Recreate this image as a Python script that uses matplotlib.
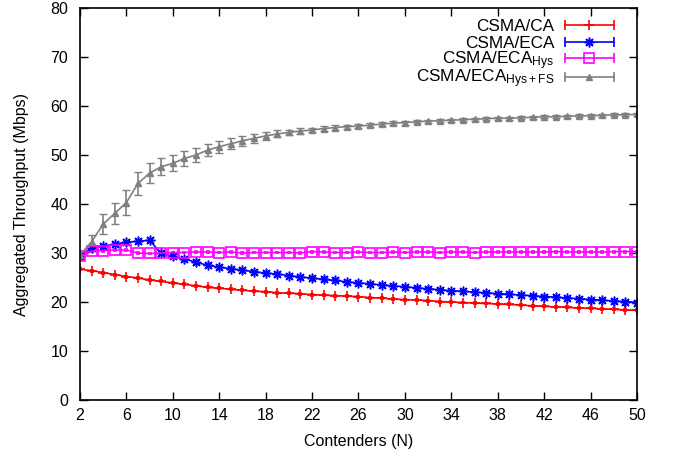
import numpy as np
import matplotlib
matplotlib.use("Agg")
import matplotlib.pyplot as plt
from matplotlib.lines import Line2D
from matplotlib.legend import Legend
from matplotlib.legend_handler import HandlerBase

plt.rcParams['font.family'] = ['Liberation Sans', 'DejaVu Sans']
plt.rcParams['mathtext.default'] = 'regular'
plt.rcParams['xtick.direction'] = 'in'
plt.rcParams['ytick.direction'] = 'in'

# contenders N = 2..50
contenders = list(range(2, 51))

csma_ca = [26.7, 26.4, 26.0, 25.6, 25.2, 24.9, 24.5, 24.2, 23.9, 23.6,
           23.3, 23.0, 22.8, 22.6, 22.4, 22.2, 22.1, 21.9, 21.8, 21.7,
           21.5, 21.4, 21.3, 21.2, 21.1, 20.9, 20.8, 20.6, 20.5, 20.4,
           20.3, 20.1, 20.0, 19.9, 19.8, 19.7, 19.6, 19.5, 19.4, 19.2,
           19.1, 19.0, 18.9, 18.8, 18.7, 18.6, 18.5, 18.4, 18.3]
csma_eca = [29.4, 31.0, 31.4, 31.8, 32.2, 32.4, 32.6, 29.9, 29.3, 28.8,
            28.1, 27.5, 27.1, 26.8, 26.5, 26.2, 25.9, 25.7, 25.4, 25.1,
            24.9, 24.6, 24.4, 24.1, 23.9, 23.7, 23.5, 23.3, 23.1, 22.9,
            22.7, 22.5, 22.3, 22.2, 22.0, 21.9, 21.7, 21.6, 21.4, 21.3,
            21.1, 21.0, 20.8, 20.7, 20.5, 20.4, 20.2, 20.1, 19.9]
csma_eca_hys = [29.3, 30.4, 30.5, 30.6, 30.6, 30.0, 29.9, 30.0, 30.1, 30.1,
                30.2, 30.2, 30.1, 30.2, 30.0, 30.1, 30.1, 30.1, 30.1, 30.0,
                30.3, 30.2, 30.1, 30.1, 30.2, 30.1, 30.1, 30.2, 30.1, 30.2,
                30.2, 30.1, 30.2, 30.2, 30.1, 30.2, 30.2, 30.2, 30.2, 30.2,
                30.2, 30.3, 30.2, 30.2, 30.2, 30.2, 30.3, 30.3, 30.3]
csma_eca_fs = [29.6, 32.3, 35.9, 38.1, 40.3, 44.2, 46.3, 47.6, 48.3, 49.3,
               50.0, 51.0, 51.7, 52.3, 52.9, 53.4, 53.9, 54.3, 54.6, 54.9,
               55.1, 55.4, 55.6, 55.8, 55.9, 56.1, 56.3, 56.5, 56.6, 56.8,
               56.9, 57.0, 57.1, 57.2, 57.3, 57.4, 57.5, 57.5, 57.6, 57.7,
               57.8, 57.8, 57.9, 58.0, 58.0, 58.1, 58.2, 58.2, 58.3]
err_fs = [0.6, 1.3, 2.1, 2.1, 2.5, 2.3, 2.1, 1.7, 1.6, 1.5,
          1.4, 1.3, 1.2, 1.1, 1.0, 0.9, 0.8, 0.7, 0.6, 0.6,
          0.5, 0.5, 0.5, 0.4, 0.4, 0.4, 0.4, 0.4, 0.4, 0.3,
          0.3, 0.3, 0.3, 0.3, 0.3, 0.3, 0.3, 0.3, 0.3, 0.3,
          0.3, 0.3, 0.3, 0.3, 0.3, 0.3, 0.3, 0.3, 0.3]
err_small = 0.2

labels = ['CSMA/CA', 'CSMA/ECA', 'CSMA/ECA$_{Hys}$', 'CSMA/ECA$_{Hys+FS}$']


class HBarHandler(HandlerBase):
    # gnuplot style key sample: horizontal bar with end caps and point in the middle
    def create_artists(self, legend, orig_handle, xdescent, ydescent,
                       width, height, fontsize, trans):
        y = height / 2 - ydescent
        x0, x1 = -xdescent, width - xdescent
        c = orig_handle.get_color()
        line = Line2D([x0, x1], [y, y], color=c, lw=1.2)
        caps = Line2D([x0, x1], [y, y], color=c, ls='none', marker='|',
                      markersize=7, markeredgewidth=1.2)
        pt = Line2D([(x0 + x1) / 2], [y], color=c, ls='none',
                    marker=orig_handle.get_marker(),
                    markersize=orig_handle.get_markersize(),
                    markerfacecolor=orig_handle.get_markerfacecolor(),
                    markeredgecolor=orig_handle.get_markeredgecolor(),
                    markeredgewidth=orig_handle.get_markeredgewidth())
        for a in (line, caps, pt):
            a.set_transform(trans)
        return [line, caps, pt]


fig = plt.figure(figsize=(6.75, 4.59), dpi=100)
ax = fig.add_axes([0.1185, 0.1285, 0.8252, 0.8541])

h1 = ax.errorbar(contenders, csma_ca, yerr=err_small, color='#ff0000', lw=1.2,
                 marker='+', markersize=7, markeredgewidth=1.2, capsize=1.5, elinewidth=1)
h2 = ax.errorbar(contenders, csma_eca, yerr=err_small, color='#0000ff', lw=1.2,
                 marker=(8, 2, 0), markersize=7, markeredgewidth=1.1, capsize=1.5, elinewidth=1)
h3 = ax.errorbar(contenders, csma_eca_hys, yerr=err_small, color='#ff00ff', lw=1.2,
                 marker='s', markersize=6.5, markerfacecolor='none',
                 markeredgewidth=1.2, capsize=1.5, elinewidth=1)
h4 = ax.errorbar(contenders, csma_eca_fs, yerr=err_fs, color='#808080', lw=1.2,
                 marker='^', markersize=5, markeredgewidth=1, capsize=2.7, elinewidth=1.2,
                 capthick=1.2)

ax.set_xlim(2, 50)
ax.set_ylim(0, 80)
ax.set_xticks(range(2, 51, 4))
ax.set_yticks(range(0, 81, 10))
ax.tick_params(top=True, right=True, length=6, width=1, labelsize=11.5)
ax.tick_params(axis='y', pad=8.5)
ax.tick_params(axis='x', pad=6)
for s in ax.spines.values():
    s.set_linewidth(1.2)

ax.set_xlabel('Contenders (N)', fontsize=11.5, labelpad=8)
ax.set_ylabel('Aggregated Throughput (Mbps)', fontsize=11.5, labelpad=15)

# one key entry per row, gnuplot-like fixed row pitch
key_rows = [0.952, 0.909, 0.866, 0.819]
for h, lab, yk in zip((h1, h2, h3, h4), labels, key_rows):
    leg = Legend(ax, [h[0]], [lab], handler_map={Line2D: HBarHandler()},
                 loc='center right', bbox_to_anchor=(0.959, yk),
                 frameon=False, markerfirst=False, borderpad=0, borderaxespad=0,
                 handlelength=2.9, handletextpad=0.6, fontsize=12.3)
    ax.add_artist(leg)

fig.savefig('out.png', dpi=100)
